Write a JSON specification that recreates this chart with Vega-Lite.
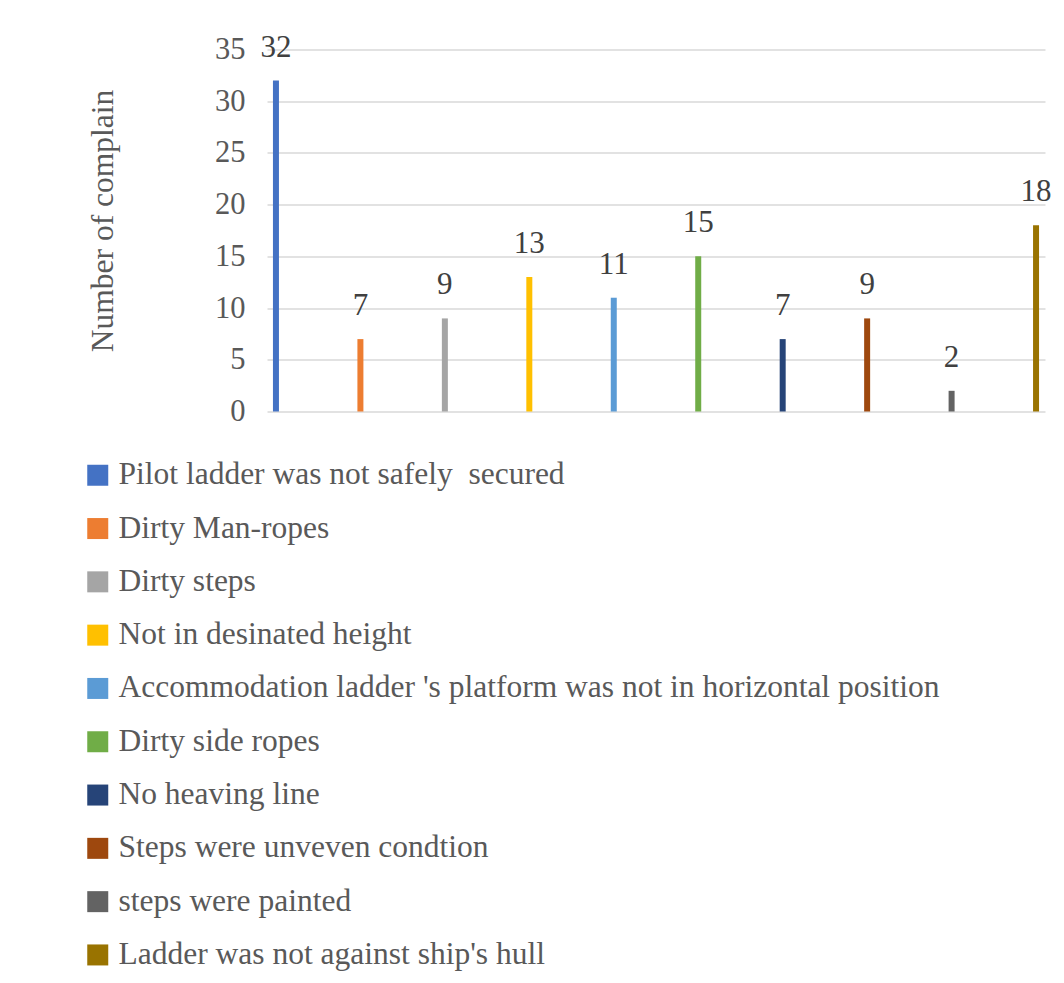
{
  "$schema": "https://vega.github.io/schema/vega-lite/v6.json",
  "width": 778,
  "height": 362,
  "autosize": {"type": "none"},
  "padding": {"left": 267, "top": 49.5, "right": 19, "bottom": 571.5},
  "background": "white",
  "config": {
    "font": "Liberation Serif",
    "view": {"stroke": null},
    "axis": {"labelColor": "#595959", "titleColor": "#595959"},
    "legend": {"labelColor": "#595959"}
  },
  "data": {
    "values": [
      {"cause": "Pilot ladder was not safely \u00a0secured", "count": 32},
      {"cause": "Dirty Man-ropes", "count": 7},
      {"cause": "Dirty steps", "count": 9},
      {"cause": "Not in desinated height", "count": 13},
      {"cause": "Accommodation ladder 's platform was not in horizontal position", "count": 11},
      {"cause": "Dirty side ropes", "count": 15},
      {"cause": "No heaving line", "count": 7},
      {"cause": "Steps were unveven condtion", "count": 9},
      {"cause": "steps were painted", "count": 2},
      {"cause": "Ladder was not against ship's hull", "count": 18}
    ]
  },
  "encoding": {
    "x": {
      "field": "cause",
      "type": "nominal",
      "sort": null,
      "scale": {"type": "point", "padding": 0.106},
      "axis": null
    },
    "y": {
      "field": "count",
      "type": "quantitative",
      "scale": {"domain": [0, 35], "nice": false},
      "axis": {
        "values": [0, 5, 10, 15, 20, 25, 30, 35],
        "title": "Number of complain",
        "titleFontSize": 31.5,
        "titleFontWeight": "normal",
        "titleX": -164,
        "titleY": 171,
        "titleAngle": -90,
        "titleAlign": "center",
        "titleBaseline": "middle",
        "labelFontSize": 30.5,
        "labelPadding": 22,
        "domain": false,
        "ticks": false,
        "gridColor": "#D9D9D9",
        "gridWidth": 1.3
      }
    }
  },
  "layer": [
    {
      "mark": {"type": "bar", "size": 6},
      "encoding": {
        "color": {
          "field": "cause",
          "type": "nominal",
          "sort": null,
          "scale": {
            "range": ["#4472C4", "#ED7D31", "#A5A5A5", "#FFC000", "#5B9BD5", "#70AD47", "#264478", "#9E480E", "#636363", "#997300"]
          },
          "legend": {
            "title": null,
            "orient": "none",
            "legendX": -185,
            "legendY": 410,
            "direction": "vertical",
            "columns": 1,
            "padding": 0,
            "symbolType": "square",
            "symbolSize": 441,
            "symbolStrokeWidth": 0,
            "symbolOpacity": 1,
            "labelFontSize": 31.5,
            "labelOffset": 5,
            "labelLimit": 1000,
            "rowPadding": 20.3
          }
        }
      }
    },
    {
      "mark": {"type": "text", "dy": -24, "baseline": "alphabetic", "fontSize": 31, "color": "#404040"},
      "encoding": {"text": {"field": "count", "type": "quantitative"}}
    }
  ]
}
